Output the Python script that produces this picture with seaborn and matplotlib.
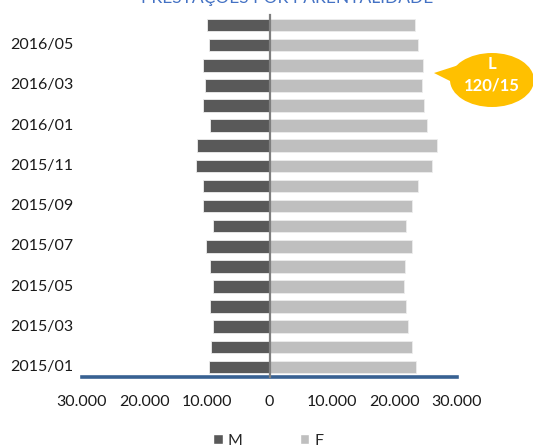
import numpy as np
import pandas as pd
import matplotlib
matplotlib.use("Agg")
import matplotlib.pyplot as plt
import matplotlib.transforms as mtransforms
from matplotlib.patches import Ellipse, Polygon, Patch
from matplotlib.ticker import FuncFormatter
import seaborn as sns

# Monthly parental benefit recipients by sex
months = ["2015/01", "2015/02", "2015/03", "2015/04", "2015/05", "2015/06",
          "2015/07", "2015/08", "2015/09", "2015/10", "2015/11", "2015/12",
          "2016/01", "2016/02", "2016/03", "2016/04", "2016/05", "2016/06"]
men = [9730, 9310, 8990, 9520, 8990, 9520, 10160, 8990, 10590, 10590,
       11760, 11550, 9520, 10590, 10370, 10590, 9730, 9950]
women = [23490, 22750, 22160, 21890, 21570, 21730, 22750, 21890, 22750, 23710,
         26050, 26850, 25150, 24770, 24350, 24560, 23710, 23280]
shown_months = months[::2]
x_ticks = [-30000, -20000, -10000, 0, 10000, 20000, 30000]

title = "PRESTAÇÕES POR PARENTALIDADE"
callout = "L\n120/15"

colors = {"M": "#595959", "F": "#BFBFBF"}

df = pd.concat([
    pd.DataFrame({"month": months, "sex": "M", "value": [-v for v in men]}),
    pd.DataFrame({"month": months, "sex": "F", "value": women}),
])

sns.set_style("white")
plt.rcParams["font.family"] = ["Lato", "DejaVu Sans"]

W, H = 533, 445
fs = 11.5
fig = plt.figure(figsize=(W / 100, H / 100), dpi=100)
ax = fig.add_axes([82 / W, 1 - 377 / H, (457 - 82) / W, (377 - 15) / H])

order = months[::-1]
sns.barplot(data=df, y="month", x="value", hue="sex", order=order,
            hue_order=["M", "F"], palette=colors, dodge=False, width=0.62,
            orient="h", errorbar=None, legend=False, ax=ax,
            edgecolor="#EDEDED", linewidth=0.6)

ax.set_xlim(-30000, 30000)
ax.set_ylim(len(months) - 0.5, -0.5)
ax.set_xlabel("")
ax.set_ylabel("")

# x axis: absolute values with dot thousands separator
ax.set_xticks(x_ticks)
ax.xaxis.set_major_formatter(
    FuncFormatter(lambda v, p: f"{abs(int(v)):,}".replace(",", ".")))
ax.tick_params(axis="x", length=0, pad=13, labelsize=fs, labelcolor="#1A1A1A")

# vertical axis sits at zero with boundary ticks
ax.spines["left"].set_position(("data", 0))
ax.spines["left"].set_color("#808080")
ax.spines["left"].set_linewidth(1.6)
ax.spines["left"].set_zorder(5)
ax.set_yticks(np.arange(-0.5, len(months), 1.0))
ax.set_yticklabels([])
ax.tick_params(axis="y", direction="out", length=3.5, width=1.0, color="#A0A0A0")
for s in ["top", "right"]:
    ax.spines[s].set_visible(False)
ax.spines["bottom"].set_color("#386192")
ax.spines["bottom"].set_linewidth(2.6)

# category labels, left-aligned at the figure margin
trans = mtransforms.blended_transform_factory(fig.transFigure, ax.transData)
for m in shown_months:
    ax.text(10 / W, order.index(m), m, transform=trans, ha="left", va="center",
            fontsize=fs, color="#1A1A1A", clip_on=False)

# title partially above the canvas
fig.text(287 / W, 1 - 3.5 / H, title, ha="center", va="baseline",
         fontsize=12.5, color="#4472C4")

# legend
handles = [Patch(facecolor=colors["M"], label="M"),
           Patch(facecolor=colors["F"], label="F")]
fig.legend(handles=handles, loc="center", bbox_to_anchor=(268 / W, 1 - 441 / H),
           ncol=2, frameon=False, handlelength=0.6, handleheight=0.6,
           handletextpad=0.3, columnspacing=3.6, fontsize=fs)

# speech bubble
yellow = "#FFC000"
fig.patches.append(Polygon([(434 / W, 1 - 73 / H), (462 / W, 1 - 64 / H),
                            (464 / W, 1 - 88 / H)], closed=True,
                           transform=fig.transFigure, facecolor=yellow,
                           edgecolor="none"))
fig.patches.append(Ellipse((492 / W, 1 - 80 / H), 84 / W, 54 / H,
                           transform=fig.transFigure, facecolor=yellow,
                           edgecolor="none"))
fig.text(492 / W, 1 - 75 / H, callout, ha="center", va="center",
         fontsize=12, fontweight="bold", color="white", linespacing=1.45)

fig.savefig("out.png", dpi=100)
